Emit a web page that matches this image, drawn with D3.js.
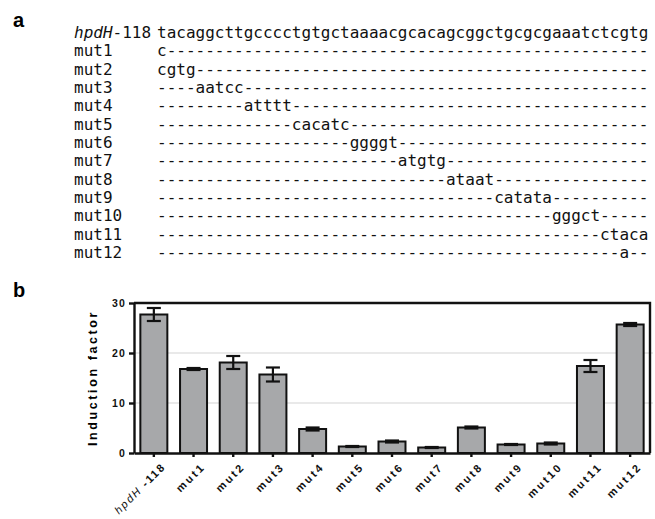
<!DOCTYPE html>
<html>
<head>
<meta charset="utf-8">
<script src="https://cdn.jsdelivr.net/npm/d3@7"></script>
<style>
  body { margin: 0; background: #fff; }
  .seq { font-family: "DejaVu Sans Mono", monospace; font-size: 16px; fill: #111; }
  .panel { font-family: "Liberation Sans", Arial, sans-serif; font-weight: bold; font-size: 20px; }
  .axis text { font-family: "Liberation Sans", Arial, sans-serif; font-weight: bold; font-size: 10.5px; letter-spacing: 1.2px; fill: #111; }
  .axis--x text { font-size: 11px; letter-spacing: 2.4px; }
  .axis path, .axis line { stroke: #111; stroke-width: 2.4px; }
</style>
</head>
<body>
<svg width="655" height="519"></svg>
<script>
// panel a: promoter sequence and its mutants
var wildType = "tacaggcttgcccctgtgctaaaacgcacagcggctgcgcgaaatctcgtg";
var mutNames = ["mut1", "mut2", "mut3", "mut4", "mut5", "mut6", "mut7", "mut8", "mut9", "mut10", "mut11", "mut12"];
var mutStart = [0, 0, 4, 9, 14, 20, 25, 30, 35, 41, 46, 48];
var mutBases = ["c", "cgtg", "aatcc", "atttt", "cacatc", "ggggt", "atgtg", "ataat", "catata", "gggct", "ctaca", "a"];

// panel b: induction factor per construct
var categories = ["hpdH-118", "mut1", "mut2", "mut3", "mut4", "mut5", "mut6", "mut7", "mut8", "mut9", "mut10", "mut11", "mut12"];
var induction = [27.7, 16.8, 18.1, 15.7, 4.8, 1.3, 2.3, 1.1, 5.1, 1.7, 1.9, 17.4, 25.7];
var errors = [1.3, 0.2, 1.3, 1.4, 0.3, 0.1, 0.2, 0.1, 0.2, 0.1, 0.2, 1.2, 0.3];
var yTicks = [0, 10, 20, 30];

var svg = d3.select("svg");

svg.append("text").attr("class", "panel").attr("x", 13).attr("y", 27).text("a");
svg.append("text").attr("class", "panel").attr("x", 13).attr("y", 297).text("b");

// build the mutant strings: dashes where the base is unchanged
var mutSeqs = mutBases.map(function(b, i) {
  var s = mutStart[i];
  return "-".repeat(s) + b + "-".repeat(wildType.length - s - b.length);
});

var rowY = d3.scaleLinear().domain([0, 12]).range([38, 258]);

var wtLabel = svg.append("text").attr("class", "seq").attr("x", 74).attr("y", rowY(0));
wtLabel.append("tspan").style("font-style", "italic").text("hpdH");
wtLabel.append("tspan").text("-118");
svg.append("text").attr("class", "seq").attr("x", 157).attr("y", rowY(0)).text(wildType);

svg.selectAll("text.mutname")
  .data(mutNames)
  .enter().append("text")
  .attr("class", "seq mutname")
  .attr("x", 74)
  .attr("y", function(d, i) { return rowY(i + 1); })
  .text(function(d) { return d; });

svg.selectAll("text.mutseq")
  .data(mutSeqs)
  .enter().append("text")
  .attr("class", "seq mutseq")
  .attr("x", 157)
  .attr("y", function(d, i) { return rowY(i + 1); })
  .text(function(d) { return d; });

// bar chart
var margin = {top: 303, left: 134, right: 5, bottom: 66},
  width = 655 - margin.left - margin.right,
  height = 519 - margin.top - margin.bottom,
  g = svg.append("g").attr("transform", "translate(" + margin.left + "," + margin.top + ")");

var x = d3.scaleBand().domain(categories).range([0, width]).paddingInner(0.32).paddingOuter(0.16),
  y = d3.scaleLinear().domain([0, 30]).range([height, 0]);

// grid lines
g.selectAll("line.grid")
  .data(yTicks.filter(function(t) { return t > 0 && t < 30; }))
  .enter().append("line")
  .attr("class", "grid")
  .attr("x1", 0).attr("x2", width + 3)
  .attr("y1", function(d) { return y(d); })
  .attr("y2", function(d) { return y(d); })
  .style("stroke", "#e2e2e2")
  .style("stroke-width", 1.6);

// frame top and right
g.append("path")
  .attr("d", "M0," + y(30) + "H" + width + "V" + y(0))
  .style("fill", "none").style("stroke", "#111").style("stroke-width", 2.4);

g.selectAll("rect.bar")
  .data(induction)
  .enter().append("rect")
  .attr("class", "bar")
  .attr("x", function(d, i) { return x(categories[i]); })
  .attr("width", x.bandwidth())
  .attr("y", function(d) { return y(d); })
  .attr("height", function(d) { return y(0) - y(d); })
  .style("fill", "#a7a8aa")
  .style("stroke", "#111")
  .style("stroke-width", 2);

// error bars
var capW = 7;
var err = g.selectAll("g.err")
  .data(induction)
  .enter().append("g")
  .attr("class", "err")
  .attr("transform", function(d, i) { return "translate(" + (x(categories[i]) + x.bandwidth() / 2) + ",0)"; });

err.append("line")
  .attr("y1", function(d, i) { return y(d - errors[i]); })
  .attr("y2", function(d, i) { return y(d + errors[i]); });
err.append("line")
  .attr("x1", -capW).attr("x2", capW)
  .attr("y1", function(d, i) { return y(d + errors[i]); })
  .attr("y2", function(d, i) { return y(d + errors[i]); });
err.append("line")
  .attr("x1", -capW).attr("x2", capW)
  .attr("y1", function(d, i) { return y(d - errors[i]); })
  .attr("y2", function(d, i) { return y(d - errors[i]); });
err.selectAll("line").style("stroke", "#111").style("stroke-width", 2.2);

g.append("g")
  .attr("class", "axis axis--y")
  .call(d3.axisLeft(y).tickValues(yTicks).tickSize(5).tickPadding(3).tickSizeOuter(0));

var xAxis = g.append("g")
  .attr("class", "axis axis--x")
  .attr("transform", "translate(0," + height + ")")
  .call(d3.axisBottom(x).tickSize(4).tickSizeOuter(0));

xAxis.selectAll(".tick text").remove();
xAxis.selectAll(".tick").append("text")
  .attr("text-anchor", "end")
  .attr("transform", "translate(7,9) rotate(-45)")
  .attr("dy", "0.7em")
  .each(function(d) {
    var t = d3.select(this);
    if (d === "hpdH-118") {
      t.style("letter-spacing", "1.8px");
      t.append("tspan").style("font-style", "italic").style("font-weight", "normal").text("hpdH");
      t.append("tspan").text(" -118");
    } else {
      t.text(d);
    }
  });

svg.append("text")
  .attr("transform", "translate(97," + (margin.top + height / 2) + ") rotate(-90)")
  .attr("text-anchor", "middle")
  .style("font-family", "Liberation Sans, Arial, sans-serif")
  .style("font-weight", "bold")
  .style("font-size", "12.5px")
  .style("letter-spacing", "2.6px")
  .text("Induction factor");
</script>
</body>
</html>
